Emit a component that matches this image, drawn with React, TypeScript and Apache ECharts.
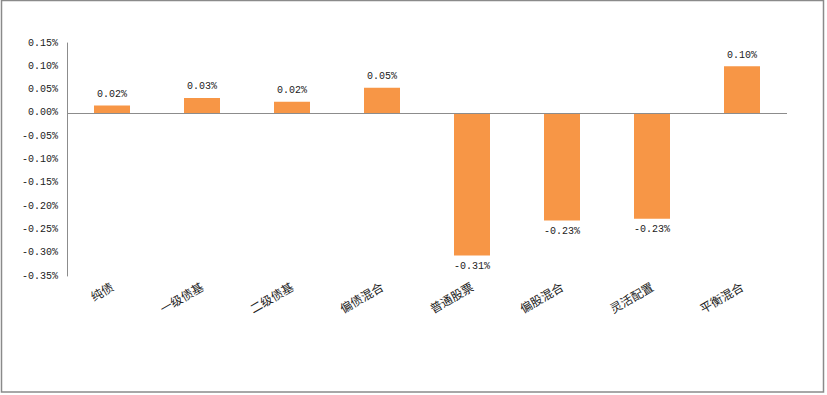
import React, { useEffect, useRef } from "react";
import * as echarts from "echarts";

const categories = ["纯债", "一级债基", "二级债基", "偏债混合", "普通股票", "偏股混合", "灵活配置", "平衡混合"];
const values = [0.016, 0.032, 0.024, 0.054, -0.306, -0.231, -0.227, 0.1];
const yMin = -0.35;
const yMax = 0.15;
const yStep = 0.05;

const NUM_FONT = "'Liberation Mono', 'DejaVu Sans Mono', monospace";
const CJK_FONT = "'Noto Sans CJK SC', sans-serif";

export default function App() {
  const ref = useRef<HTMLDivElement>(null);
  useEffect(() => {
    if (!ref.current) return;
    const chart = echarts.init(ref.current, undefined, { renderer: "svg" });
    chart.setOption({
      animation: false,
      backgroundColor: "#ffffff",
      graphic: [
        {
          type: "rect",
          shape: { x: 1.5, y: 0.5, width: 822, height: 391.5 },
          style: { fill: "none", stroke: "#8a8a8a", lineWidth: 1.5 },
          silent: true,
        },
      ],
      grid: { left: 67, right: 40, top: 43, bottom: 119, containLabel: false },
      xAxis: {
        type: "category",
        data: categories,
        axisLine: { show: false, onZero: false },
        axisTick: { show: false },
        axisLabel: {
          interval: 0,
          rotate: 30,
          margin: 9,
          color: "#222",
          fontSize: 12,
          fontFamily: CJK_FONT,
        },
      },
      yAxis: {
        type: "value",
        min: yMin,
        max: yMax,
        interval: yStep,
        axisLine: { show: true, lineStyle: { color: "#8c8c8c", width: 1 } },
        axisTick: { show: false },
        splitLine: { show: false },
        axisLabel: {
          margin: 9,
          color: "#222",
          fontSize: 10,
          fontFamily: NUM_FONT,
          formatter: (v: number) => v.toFixed(2) + "%",
        },
      },
      series: [
        {
          type: "bar",
          barWidth: "40%",
          itemStyle: { color: "#F79646" },
          data: values.map((v) => ({
            value: v,
            label: {
              show: true,
              position: v >= 0 ? "top" : "bottom",
              distance: 6,
              color: "#222",
              fontSize: 10,
              fontFamily: NUM_FONT,
              formatter: () => v.toFixed(2) + "%",
            },
          })),
          markLine: {
            silent: true,
            symbol: "none",
            label: { show: false },
            lineStyle: { color: "#8c8c8c", width: 1, type: "solid" },
            data: [{ yAxis: 0 }],
          },
        },
      ],
    });
    return () => chart.dispose();
  }, []);
  return (
    <div
      ref={ref}
      style={{ position: "fixed", left: 0, top: 0, width: 827, height: 395 }}
    />
  );
}
